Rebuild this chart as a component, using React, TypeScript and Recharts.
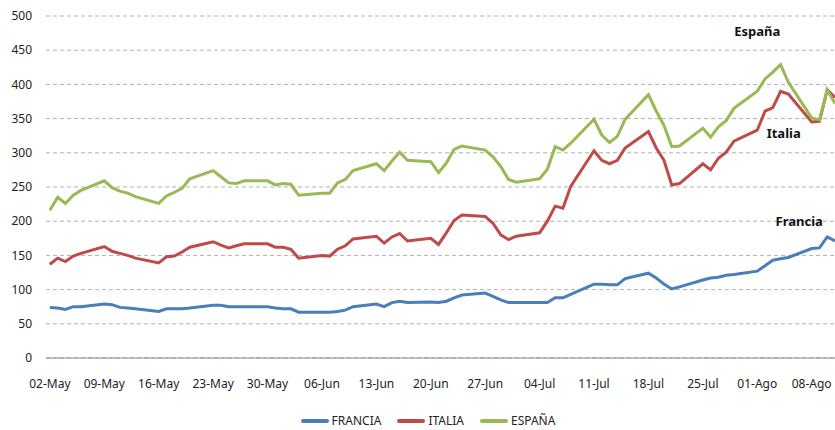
import {
  CartesianGrid,
  Legend,
  Line,
  LineChart,
  ReferenceDot,
  XAxis,
  YAxis,
} from "recharts";

// días hábiles (2011)
const fechas = [
  "2011-05-02", "2011-05-03", "2011-05-04", "2011-05-05", "2011-05-06",
  "2011-05-09", "2011-05-10", "2011-05-11", "2011-05-12", "2011-05-13",
  "2011-05-16", "2011-05-17", "2011-05-18", "2011-05-19", "2011-05-20",
  "2011-05-23", "2011-05-24", "2011-05-25", "2011-05-26", "2011-05-27",
  "2011-05-30", "2011-05-31", "2011-06-01", "2011-06-02", "2011-06-03",
  "2011-06-06", "2011-06-07", "2011-06-08", "2011-06-09", "2011-06-10",
  "2011-06-13", "2011-06-14", "2011-06-15", "2011-06-16", "2011-06-17",
  "2011-06-20", "2011-06-21", "2011-06-22", "2011-06-23", "2011-06-24",
  "2011-06-27", "2011-06-28", "2011-06-29", "2011-06-30", "2011-07-01",
  "2011-07-04", "2011-07-05", "2011-07-06", "2011-07-07", "2011-07-08",
  "2011-07-11", "2011-07-12", "2011-07-13", "2011-07-14", "2011-07-15",
  "2011-07-18", "2011-07-19", "2011-07-20", "2011-07-21", "2011-07-22",
  "2011-07-25", "2011-07-26", "2011-07-27", "2011-07-28", "2011-07-29",
  "2011-08-01", "2011-08-02", "2011-08-03", "2011-08-04", "2011-08-05",
  "2011-08-08", "2011-08-09", "2011-08-10", "2011-08-11",
];

const francia = [
  74, 73, 71, 75, 75, 79, 78, 74, 73, 72, 68, 72, 72, 72, 73,
  77, 77, 75, 75, 75, 75, 73, 72, 72, 67, 67, 67, 68, 70, 75,
  79, 75, 81, 83, 81, 82, 81, 83, 88, 92, 95, 90, 85, 81, 81,
  81, 81, 88, 88, 93, 108, 108, 107, 107, 116, 124, 117, 108, 101, 104,
  114, 117, 118, 121, 122, 127, 135, 143, 145, 147, 160, 161, 177, 171,
];

const italia = [
  137, 146, 141, 149, 153, 163, 156, 153, 150, 146, 139, 148, 149, 155, 162,
  170, 165, 161, 164, 167, 167, 162, 162, 159, 146, 150, 149, 159, 164, 174,
  178, 168, 177, 182, 171, 175, 166, 183, 201, 209, 207, 197, 180, 173, 178,
  183, 200, 222, 219, 251, 303, 289, 284, 289, 307, 331, 307, 289, 253, 255,
  284, 275, 292, 301, 317, 333, 361, 366, 390, 386, 345, 346, 392, 381,
];

const espana = [
  216, 235, 226, 238, 245, 259, 249, 244, 241, 236, 226, 237, 242, 248, 262,
  274, 265, 256, 255, 259, 259, 253, 255, 254, 238, 241, 241, 256, 261, 274,
  284, 274, 288, 301, 289, 287, 271, 285, 305, 310, 304, 294, 280, 261, 257,
  262, 276, 309, 304, 314, 349, 326, 315, 324, 349, 385, 361, 340, 309, 310,
  336, 323, 338, 347, 365, 390, 408, 418, 429, 403, 351, 348, 392, 372,
];

const fechasTicks = [
  "2011-05-02", "2011-05-09", "2011-05-16", "2011-05-23", "2011-05-30",
  "2011-06-06", "2011-06-13", "2011-06-20", "2011-06-27", "2011-07-04",
  "2011-07-11", "2011-07-18", "2011-07-25", "2011-08-01", "2011-08-08",
];
const etiquetasX = [
  "02-May", "09-May", "16-May", "23-May", "30-May", "06-Jun", "13-Jun",
  "20-Jun", "27-Jun", "04-Jul", "11-Jul", "18-Jul", "25-Jul", "01-Ago", "08-Ago",
];

const ticksY = [0, 50, 100, 150, 200, 250, 300, 350, 400, 450, 500];

const ordenLeyenda = ["FRANCIA", "ITALIA", "ESPAÑA"];

const inicio = Date.parse(fechas[0]);
const dia = (f: string) => Math.round((Date.parse(f) - inicio) / 86400000);

const data = fechas.map((f, i) => ({
  t: dia(f),
  francia: francia[i],
  italia: italia[i],
  espana: espana[i],
}));

const ticksX = fechasTicks.map(dia);

const FONT = "'Noto Sans', sans-serif";

const LeyendaContenido = (props: any) => {
  const items = [...(props.payload || [])].sort(
    (a: any, b: any) => ordenLeyenda.indexOf(a.value) - ordenLeyenda.indexOf(b.value)
  );
  return (
    <div
      style={{
        height: 30,
        boxSizing: "border-box",
        paddingTop: 12,
        paddingLeft: 21,
        display: "flex",
        justifyContent: "center",
        alignItems: "center",
        fontFamily: FONT,
        fontSize: 12,
        color: "#222",
        lineHeight: "16px",
      }}
    >
      {items.map((it: any, i: number) => (
        <div
          key={it.value}
          style={{
            display: "flex",
            alignItems: "center",
            marginLeft: i === 0 ? 0 : 16,
          }}
        >
          <span
            style={{
              display: "inline-block",
              width: 28,
              height: 4,
              borderRadius: 2,
              background: it.color,
              marginRight: 3,
            }}
          />
          <span>{it.value}</span>
        </div>
      ))}
    </div>
  );
};

const etiqueta = (texto: string) => ({
  value: texto,
  position: "center" as const,
  fill: "#111",
  fontSize: 13,
  fontWeight: "bold",
  fontFamily: FONT,
});

export default function App() {
  return (
    <div style={{ position: "absolute", left: 0, top: 0, background: "#fff" }}>
      <LineChart
        width={835}
        height={430}
        data={data}
        margin={{ top: 16, right: 0, left: 0, bottom: 0 }}
      >
        <CartesianGrid
          vertical={false}
          stroke="#b0b0b0"
          strokeDasharray="4 3"
        />
        <XAxis
          dataKey="t"
          type="number"
          domain={[-0.5, 101]}
          ticks={ticksX}
          tickFormatter={(v: number) => etiquetasX[ticksX.indexOf(v)] ?? ""}
          interval={0}
          height={42}
          tickLine={false}
          tickMargin={15}
          axisLine={{ stroke: "#8c8c8c", strokeWidth: 1.2 }}
          tick={{ fill: "#222", fontSize: 12, fontFamily: FONT }}
        />
        <YAxis
          domain={[0, 500]}
          ticks={ticksY}
          interval={0}
          width={46}
          axisLine={false}
          tickLine={false}
          tickMargin={8}
          tick={{ fill: "#222", fontSize: 12, fontFamily: FONT }}
        />
        <Legend
          verticalAlign="bottom"
          height={30}
          content={<LeyendaContenido />}
        />
        <Line
          type="linear"
          dataKey="francia"
          name="FRANCIA"
          stroke="#4a7ebb"
          strokeWidth={3}
          dot={false}
          isAnimationActive={false}
        />
        <Line
          type="linear"
          dataKey="italia"
          name="ITALIA"
          stroke="#be4b48"
          strokeWidth={3}
          dot={false}
          isAnimationActive={false}
        />
        <Line
          type="linear"
          dataKey="espana"
          name="ESPAÑA"
          stroke="#98b954"
          strokeWidth={3}
          dot={false}
          isAnimationActive={false}
        />
        <ReferenceDot x={91} y={477} r={0} fill="none" stroke="none" label={etiqueta("España")} />
        <ReferenceDot x={94.4} y={328} r={0} fill="none" stroke="none" label={etiqueta("Italia")} />
        <ReferenceDot x={96.4} y={199} r={0} fill="none" stroke="none" label={etiqueta("Francia")} />
      </LineChart>
    </div>
  );
}
